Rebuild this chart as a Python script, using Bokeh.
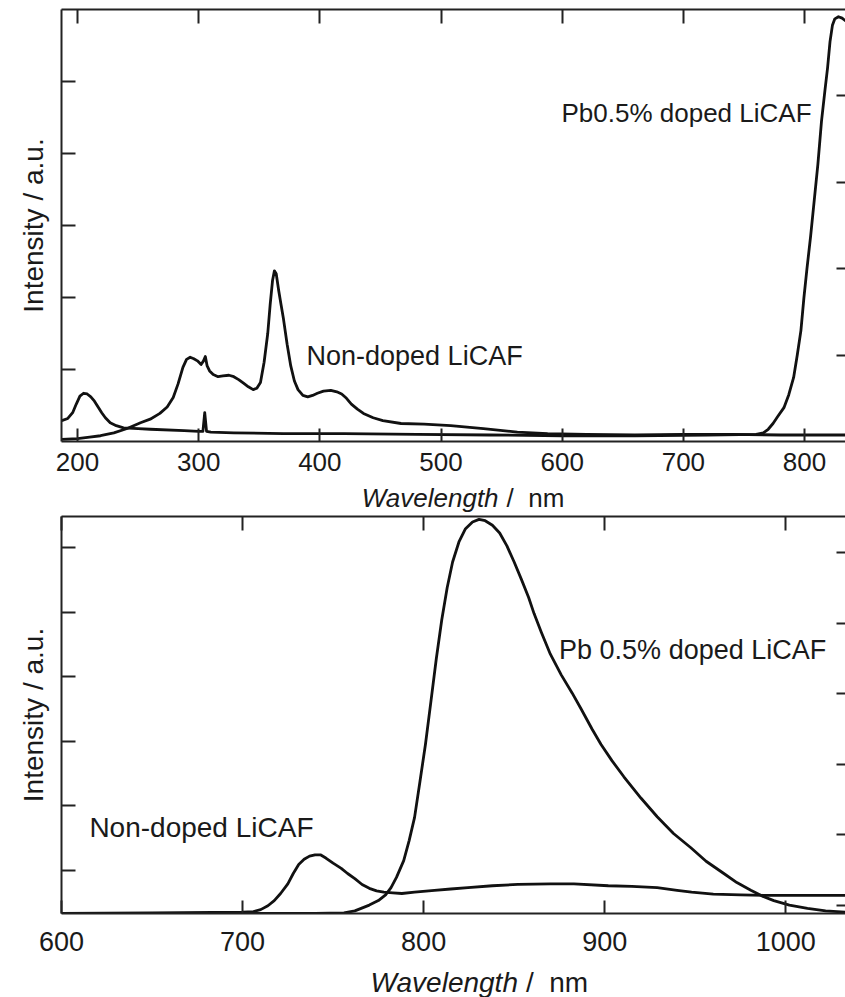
from bokeh.plotting import figure
from bokeh.models import Range1d, LinearAxis, FixedTicker, Label
from bokeh.layouts import column
from bokeh.embed import file_html
from bokeh.resources import INLINE

# ---------------- data ----------------
# Top panel: intensity in units of the left-axis tick spacing
top_nondoped_nm = [187, 200, 210, 219, 230, 241, 252, 260, 268, 274, 279, 283, 287, 290, 293,
                   296, 299, 302, 304, 305.5, 307, 309, 312, 316, 320, 325, 329, 333, 337,
                   341, 345, 348, 351, 354, 357, 359, 361, 362.5, 364, 366, 368, 370, 373,
                   376, 379, 382, 386, 390, 394, 398, 403, 409, 414, 418, 422, 426, 431,
                   436, 444, 452, 467, 486, 508, 535, 563, 588, 620, 660, 700, 740, 780, 834]
top_nondoped_int = [0.03, 0.04, 0.06, 0.08, 0.12, 0.18, 0.26, 0.31, 0.39, 0.48, 0.61, 0.80,
                    1.03, 1.14, 1.17, 1.15, 1.12, 1.07, 1.12, 1.18, 1.05, 0.98, 0.93, 0.90,
                    0.91, 0.92, 0.90, 0.86, 0.81, 0.76, 0.72, 0.74, 0.82, 1.10, 1.50, 1.90,
                    2.24, 2.37, 2.33, 2.10, 1.90, 1.70, 1.35, 1.05, 0.84, 0.72, 0.64, 0.62,
                    0.64, 0.67, 0.70, 0.71, 0.69, 0.66, 0.60, 0.52, 0.45, 0.39, 0.33, 0.29,
                    0.25, 0.24, 0.22, 0.18, 0.13, 0.11, 0.10, 0.09, 0.10, 0.10, 0.09, 0.09]

top_pb_nm = [187, 192, 196, 199, 202, 205, 208, 211, 214, 217, 220, 223, 227, 232, 238, 250,
             260, 288, 300, 303.5, 305, 306.5, 310, 329, 370, 420, 480, 540, 600, 660, 720,
             760, 766, 770, 774, 778, 783, 787, 791, 794, 797, 799.5, 802, 805, 808, 811,
             814, 817, 819, 821, 823, 825, 828, 831, 834]
top_pb_int = [0.29, 0.32, 0.40, 0.52, 0.63, 0.67, 0.66, 0.62, 0.56, 0.48, 0.40, 0.33, 0.26,
              0.22, 0.19, 0.18, 0.17, 0.15, 0.14, 0.14, 0.40, 0.14, 0.13, 0.12, 0.11, 0.11,
              0.10, 0.09, 0.08, 0.08, 0.09, 0.10, 0.12, 0.17, 0.25, 0.35, 0.47, 0.65, 0.89,
              1.20, 1.54, 2.00, 2.40, 2.85, 3.35, 3.85, 4.45, 4.90, 5.19, 5.55, 5.78, 5.87,
              5.90, 5.88, 5.84]

# Bottom panel: intensity in units of the left-axis tick spacing
bot_nondoped_nm = [600, 650, 700, 706, 710, 714, 717.5, 721, 725, 728, 731, 734, 737, 740,
                   743, 746, 750, 754.5, 758, 762, 766, 770, 774, 778, 783, 788, 795, 806,
                   815, 824.5, 838, 852, 870, 883, 902, 915, 929, 940, 948, 960, 975, 990,
                   1003, 1033]
bot_nondoped_int = [0.00, 0.01, 0.02, 0.03, 0.06, 0.12, 0.20, 0.31, 0.46, 0.62, 0.76, 0.84,
                    0.89, 0.91, 0.91, 0.86, 0.78, 0.70, 0.62, 0.54, 0.45, 0.39, 0.35, 0.33,
                    0.32, 0.31, 0.33, 0.36, 0.38, 0.40, 0.43, 0.45, 0.46, 0.46, 0.43, 0.42,
                    0.40, 0.36, 0.33, 0.30, 0.29, 0.28, 0.28, 0.28]

bot_pb_nm = [600, 700, 740, 756, 762, 765.5, 770, 775, 779, 782, 785, 789, 792, 795, 798,
             801, 804, 807, 810, 813, 816, 819.5, 823, 827, 830.6, 834, 838, 842, 846, 850,
             854, 858, 861, 865, 870, 876, 882, 887, 893, 898, 904, 910.6, 920, 929, 938,
             947.6, 956, 965.8, 973, 980.7, 987, 993.4, 1002, 1012, 1022, 1033]
bot_pb_int = [0.00, 0.00, 0.00, 0.01, 0.04, 0.08, 0.13, 0.20, 0.29, 0.40, 0.56, 0.82, 1.13,
              1.49, 2.05, 2.62, 3.28, 3.95, 4.55, 5.05, 5.45, 5.76, 5.96, 6.07, 6.11, 6.09,
              6.02, 5.90, 5.70, 5.45, 5.18, 4.90, 4.65, 4.36, 4.02, 3.70, 3.42, 3.17, 2.86,
              2.62, 2.37, 2.12, 1.79, 1.50, 1.24, 1.02, 0.81, 0.62, 0.48, 0.36, 0.27, 0.20,
              0.13, 0.08, 0.04, 0.02]

top_xticks = [200, 300, 400, 500, 600, 700, 800]
bot_xticks = [600, 700, 800, 900, 1000]

FONT = "Liberation Sans"
TXT = "#1a1a1a"
LINE = "#111111"
W = 845


def style_axis(ax, tick_in, labels=True, size="26px", standoff=8):
    ax.axis_line_width = 2
    ax.axis_line_color = "#222222"
    ax.major_tick_line_width = 2
    ax.major_tick_line_color = "#222222"
    ax.major_tick_in = tick_in
    ax.major_tick_out = 0
    ax.minor_tick_in = 0
    ax.minor_tick_out = 0
    ax.major_label_text_font = FONT
    ax.major_label_text_color = TXT
    if labels:
        ax.major_label_text_font_size = size
        ax.major_label_standoff = standoff
    else:
        ticks = ax.ticker.ticks
        ax.major_label_overrides = {t: "" for t in ticks}
        ax.major_label_text_font_size = "1px"
        ax.major_label_standoff = 0


def make_fig(height, min_top, min_bottom, min_left, xr, yr, rr,
             xticks, lticks, rticks, lab_size, lab_standoff):
    p = figure(width=W, height=height, output_backend="svg", toolbar_location=None,
               x_range=xr, y_range=Range1d(*yr),
               min_border_top=min_top, min_border_bottom=min_bottom,
               min_border_left=min_left, min_border_right=0)
    p.outline_line_color = None
    p.grid.visible = False
    p.background_fill_color = "white"
    p.border_fill_color = "white"

    xa = p.xaxis[0]
    xa.ticker = FixedTicker(ticks=xticks)
    style_axis(xa, 13, True, lab_size, lab_standoff)

    ya = p.yaxis[0]
    ya.ticker = FixedTicker(ticks=lticks)
    style_axis(ya, 14, False)
    ya.axis_label = "Intensity / a.u."
    ya.axis_label_text_font = FONT
    ya.axis_label_text_font_size = "28px"
    ya.axis_label_text_font_style = "normal"
    ya.axis_label_text_color = TXT
    ya.axis_label_standoff = 13

    top = LinearAxis(ticker=FixedTicker(ticks=xticks))
    style_axis(top, 14, False)
    p.add_layout(top, "above")

    p.extra_y_ranges = {"r": Range1d(*rr)}
    right = LinearAxis(y_range_name="r", ticker=FixedTicker(ticks=rticks))
    style_axis(right, 9, False)
    right.axis_line_color = None
    p.add_layout(right, "right")
    return p


def label_strip(xr, height, min_left, x_split, y, size):
    s = figure(width=W, height=height, output_backend="svg", toolbar_location=None,
               x_range=xr, y_range=Range1d(0, height),
               x_axis_location=None, y_axis_location=None,
               min_border_top=0, min_border_bottom=0,
               min_border_left=min_left, min_border_right=0)
    s.outline_line_color = None
    s.grid.visible = False
    s.add_layout(Label(x=x_split, y=y, text="Wavelength", text_font=FONT,
                       text_font_size=size, text_font_style="italic", text_color=TXT,
                       text_align="right", text_baseline="middle"))
    s.add_layout(Label(x=x_split, y=y, x_offset=8, text="/\u00a0\u00a0nm", text_font=FONT,
                       text_font_size=size, text_color=TXT,
                       text_align="left", text_baseline="middle"))
    return s


# ---------------- top panel ----------------
xr1 = Range1d(186.8, 833.8)
p1 = make_fig(483, 9, 42, 61, xr1, (0, 6), (0, 5),
              top_xticks, [1, 2, 3, 4, 5], [1, 2, 3, 4], "26px", 11)
p1.line(top_nondoped_nm, top_nondoped_int, line_width=2.8, line_color=LINE, line_join="round")
p1.line(top_pb_nm, top_pb_int, line_width=2.8, line_color=LINE, line_join="round")
p1.add_layout(Label(x=389, y=1.19, text="Non-doped LiCAF", text_font=FONT,
                    text_font_size="27px", text_color=TXT, text_baseline="middle"))
p1.add_layout(Label(x=599.4, y=4.56, text="Pb0.5% doped LiCAF", text_font=FONT,
                    text_font_size="26px", text_color=TXT, text_baseline="middle"))

s1 = label_strip(xr1, 31, 61, 547.5, 17, "26px")

# ---------------- bottom panel ----------------
xr2 = Range1d(600, 1033)
p2 = make_fig(447, 2, 48, 60, xr2, (0, 6.155), (-0.113, 5.51),
              bot_xticks, [0.667 + k for k in range(6)], [0, 1, 2, 3, 4, 5], "27px", 18)
p2.line(bot_nondoped_nm, bot_nondoped_int, line_width=2.8, line_color=LINE, line_join="round")
p2.line(bot_pb_nm, bot_pb_int, line_width=2.8, line_color=LINE, line_join="round")
p2.add_layout(Label(x=615.4, y=1.33, text="Non-doped LiCAF", text_font=FONT,
                    text_font_size="28px", text_color=TXT, text_baseline="middle"))
p2.add_layout(Label(x=874.8, y=4.08, text="Pb 0.5% doped LiCAF", text_font=FONT,
                    text_font_size="27px", text_color=TXT, text_baseline="middle"))

s2 = label_strip(xr2, 36, 60, 852.1, 15, "28px")

layout = column(p1, s1, p2, s2, spacing=0)
open("out.html", "w").write(file_html(layout, INLINE))
